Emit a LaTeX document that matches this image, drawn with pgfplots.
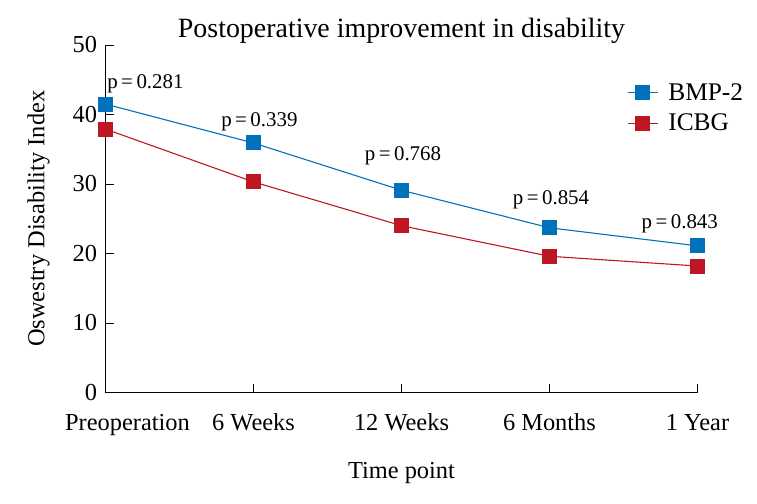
\documentclass[border=0pt]{standalone}
\usepackage{fontspec}
\setmainfont{Liberation Serif}
\usepackage{pgfplots}
\pgfplotsset{compat=1.18}
\definecolor{bmpblue}{RGB}{0,114,188}
\definecolor{icbgred}{RGB}{190,22,34}
\begin{document}
\begin{tikzpicture}
\useasboundingbox (0,0) rectangle (757bp,504bp);
\begin{axis}[
  at={(105.5bp,111.5bp)}, anchor=south west,
  scale only axis, width=592bp, height=347.5bp,
  xmin=0, xmax=4, ymin=0, ymax=50,
  axis x line*=bottom, axis y line*=left,
  axis line style={line width=1.6pt, -},
  xtick={0,1,2,3,4},
  xticklabels={\hspace*{44bp}Preoperation, 6 Weeks, 12 Weeks, 6 Months, 1 Year},
  ytick={0,10,20,30,40,50},
  tick style={line width=0.7pt, black},
  major tick length=8bp,
  tick align=inside,
  ticklabel style={font=\fontsize{24.5}{28}\selectfont},
  /pgf/number format/assume math mode=true,
  xticklabel style={yshift=-18bp},
  yticklabel style={xshift=-5bp},
  title={Postoperative improvement in disability},
  title style={font=\fontsize{28}{32}\selectfont, yshift=-8bp},
  xlabel={Time point},
  ylabel={Oswestry Disability Index},
  label style={font=\fontsize{24.5}{28}\selectfont},
  xlabel style={yshift=-20bp},
  ylabel style={yshift=16bp},
  clip=false,
  legend style={draw=none, fill=none, at={(rel axis cs:0.881,0.895)}, anchor=north west,
    font=\fontsize{25.5}{28}\selectfont, row sep=8bp, inner sep=0pt,
    /tikz/every odd column/.append style={column sep=8bp}},
  legend cell align=left,
  legend image code/.code={
    \draw[#1, mark=none] (0bp,0bp) -- (30bp,0bp);
    \draw[#1, only marks] plot coordinates {(15bp,0bp)};
  },
]
\addplot[bmpblue, line width=1.1pt, mark=square*, mark size=7bp, mark options={draw=bmpblue, fill=bmpblue, line width=0pt}]
  coordinates {(0,41.5) (1,35.9) (2,29.1) (3,23.7) (4,21.1)};
\addlegendentry{BMP-2}
\addplot[icbgred, line width=1.1pt, mark=square*, mark size=7bp, mark options={draw=icbgred, fill=icbgred, line width=0pt}]
  coordinates {(0,37.9) (1,30.3) (2,24.0) (3,19.6) (4,18.2)};
\addlegendentry{ICBG}
\begin{scope}[every node/.style={font=\fontsize{21}{24}\selectfont}]
\node at (axis cs:0.27,44.4) {p\,=\,0.281};
\node at (axis cs:1.04,39.0) {p\,=\,0.339};
\node at (axis cs:2.01,34.0) {p\,=\,0.768};
\node at (axis cs:3.01,27.7) {p\,=\,0.854};
\node at (axis cs:3.88,24.3) {p\,=\,0.843};
\end{scope}
\end{axis}
\end{tikzpicture}
\end{document}
